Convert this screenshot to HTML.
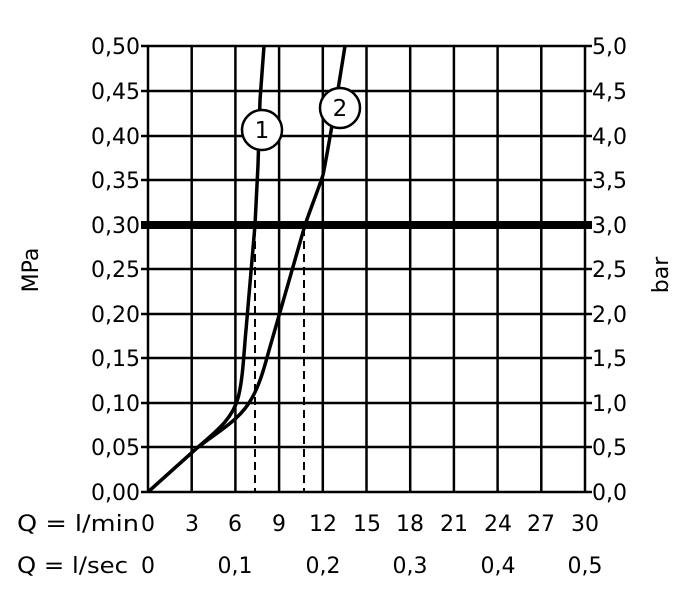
<!DOCTYPE html><html><head><style>body{margin:0;background:#fff}</style></head><body>
<svg width="688" height="605" xmlns="http://www.w3.org/2000/svg" font-family="DejaVu Sans, Liberation Sans, sans-serif" font-size="22" fill="#000">
<rect width="688" height="605" fill="#fff"/>
<g stroke="#000" stroke-width="2.5">
<line x1="148" y1="46" x2="585" y2="46"/><line x1="148" y1="91" x2="585" y2="91"/><line x1="148" y1="136" x2="585" y2="136"/><line x1="148" y1="180" x2="585" y2="180"/><line x1="148" y1="269" x2="585" y2="269"/><line x1="148" y1="314" x2="585" y2="314"/><line x1="148" y1="358" x2="585" y2="358"/><line x1="148" y1="403" x2="585" y2="403"/><line x1="148" y1="447" x2="585" y2="447"/><line x1="141" y1="492" x2="592" y2="492"/>
<line x1="148" y1="46" x2="148" y2="492"/><line x1="191.7" y1="46" x2="191.7" y2="492"/><line x1="235.4" y1="46" x2="235.4" y2="492"/><line x1="279.1" y1="46" x2="279.1" y2="492"/><line x1="322.8" y1="46" x2="322.8" y2="492"/><line x1="366.5" y1="46" x2="366.5" y2="492"/><line x1="410.2" y1="46" x2="410.2" y2="492"/><line x1="453.9" y1="46" x2="453.9" y2="492"/><line x1="497.6" y1="46" x2="497.6" y2="492"/><line x1="541.3" y1="46" x2="541.3" y2="492"/><line x1="585" y1="46" x2="585" y2="492"/>
</g>
<g stroke="#000" stroke-width="2.5"><line x1="141" y1="46" x2="148" y2="46"/><line x1="141" y1="91" x2="148" y2="91"/><line x1="141" y1="136" x2="148" y2="136"/><line x1="141" y1="180" x2="148" y2="180"/><line x1="141" y1="269" x2="148" y2="269"/><line x1="141" y1="314" x2="148" y2="314"/><line x1="141" y1="358" x2="148" y2="358"/><line x1="141" y1="403" x2="148" y2="403"/><line x1="141" y1="447" x2="148" y2="447"/>
<line x1="585" y1="46" x2="592" y2="46"/><line x1="585" y1="91" x2="592" y2="91"/><line x1="585" y1="136" x2="592" y2="136"/><line x1="585" y1="180" x2="592" y2="180"/><line x1="585" y1="269" x2="592" y2="269"/><line x1="585" y1="314" x2="592" y2="314"/><line x1="585" y1="358" x2="592" y2="358"/><line x1="585" y1="403" x2="592" y2="403"/><line x1="585" y1="447" x2="592" y2="447"/></g>
<line x1="141" y1="225" x2="592" y2="225" stroke="#000" stroke-width="8"/>
<g stroke="#000" stroke-width="2" stroke-dasharray="8,5"><line x1="255" y1="228" x2="255" y2="492"/><line x1="304" y1="228" x2="304" y2="492"/></g>
<g fill="none" stroke="#000" stroke-width="3.5">
<path d="M148,492 L197,448 C215,432 232,420 238,398 C243,380 244,350 246,330 L255,225 L258,165 L260,100 L264,46"/>
<path d="M148,492 L197,448 C220,430 240,420 252,398 C262,380 266,360 272,340 L305,225 C312,205 318,190 323,175 C330,140 338,90 345,46"/>
</g>
<circle cx="262" cy="130" r="20" fill="#fff" stroke="#000" stroke-width="2.5"/>
<circle cx="340" cy="108" r="20" fill="#fff" stroke="#000" stroke-width="2.5"/>
<text x="262" y="138" text-anchor="middle" font-size="23">1</text>
<text x="340" y="116" text-anchor="middle" font-size="23">2</text>
<g text-anchor="end"><text x="140" y="54">0,50</text><text x="140" y="99">0,45</text><text x="140" y="144">0,40</text><text x="140" y="188">0,35</text><text x="140" y="233">0,30</text><text x="140" y="277">0,25</text><text x="140" y="322">0,20</text><text x="140" y="366">0,15</text><text x="140" y="411">0,10</text><text x="140" y="455">0,05</text><text x="140" y="500">0,00</text></g>
<g><text x="592" y="54">5,0</text><text x="592" y="99">4,5</text><text x="592" y="144">4,0</text><text x="592" y="188">3,5</text><text x="592" y="233">3,0</text><text x="592" y="277">2,5</text><text x="592" y="322">2,0</text><text x="592" y="366">1,5</text><text x="592" y="411">1,0</text><text x="592" y="455">0,5</text><text x="592" y="500">0,0</text></g>
<text transform="translate(38,270) rotate(-90)" text-anchor="middle">MPa</text>
<text transform="translate(668,275) rotate(-90)" text-anchor="middle">bar</text>
<g text-anchor="middle"><text x="148" y="531">0</text><text x="192" y="531">3</text><text x="235" y="531">6</text><text x="279" y="531">9</text><text x="323" y="531">12</text><text x="367" y="531">15</text><text x="410" y="531">18</text><text x="454" y="531">21</text><text x="498" y="531">24</text><text x="541" y="531">27</text><text x="585" y="531">30</text>
<text x="148" y="573">0</text><text x="235" y="573">0,1</text><text x="323" y="573">0,2</text><text x="410" y="573">0,3</text><text x="498" y="573">0,4</text><text x="585" y="573">0,5</text></g>
<text x="17" y="531" textLength="122" lengthAdjust="spacingAndGlyphs">Q = l/min</text><text x="17" y="573" textLength="111" lengthAdjust="spacingAndGlyphs">Q = l/sec</text>
</svg></body></html>
